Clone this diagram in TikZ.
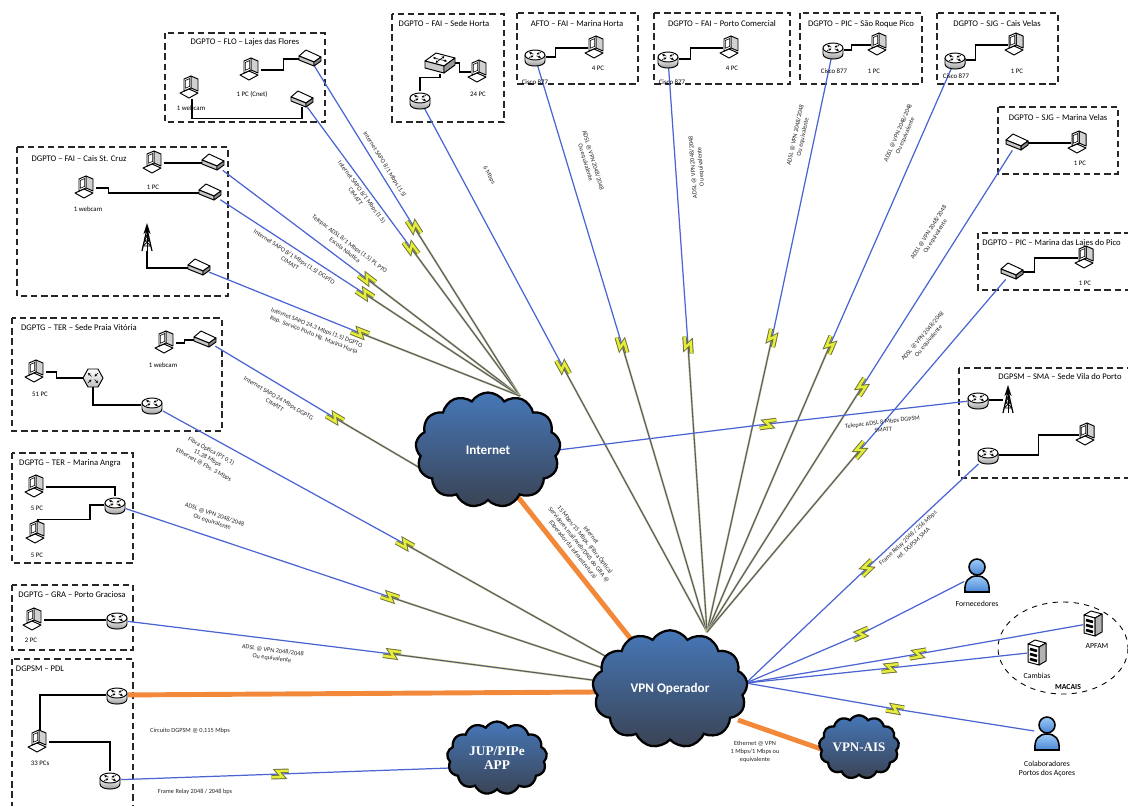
\documentclass[tikz,border=0pt]{standalone}
\usepackage{fontspec}
\setmainfont{Carlito}
\newfontfamily\cloudserif{Liberation Serif}
\usetikzlibrary{shapes.symbols,decorations.markings,arrows.meta}

% colours
\definecolor{linkblue}{HTML}{4A64D2}
\definecolor{linkgray}{HTML}{555A6E}
\definecolor{linkyellow}{HTML}{C9CC8E}
\definecolor{boltfill}{HTML}{E4EE3A}
\definecolor{boltedge}{HTML}{707238}
\definecolor{wanorange}{HTML}{F2883A}
\definecolor{cloudtop}{HTML}{4677B8}
\definecolor{cloudmid}{HTML}{5C9BE0}
\definecolor{cloudbot}{HTML}{3A4354}
\definecolor{personlight}{HTML}{9CCBF4}
\definecolor{persondark}{HTML}{4A86D6}

\newcommand\titlefont{\fontsize{4.9}{5.8}\selectfont}
\newcommand\linkfont{\fontsize{3.6}{4.4}\selectfont}
\newcommand\devfont{\fontsize{3.9}{4.6}\selectfont}

% a WAN link: device -> lightning bolt -> hub
\newcommand\wanlink[4][wirefar]{%
  \draw[wire] (#2) -- (#3);
  \draw[#1] (#3) -- (#4);
  \path[boltmark] (#3) -- (#4);}

\tikzset{
  site/.style={draw=black!85, line width=1pt, dash pattern=on 3.6pt off 2.2pt},
  sitetitle/.style={font=\titlefont, inner sep=0pt},
  devlabel/.style={font=\devfont, inner sep=0pt},
  linklabel/.style={font=\linkfont, align=center, inner sep=0.5pt, text=black!85},
  wiring/.style={draw=black, line width=0.6pt},
  wire/.style={draw=linkblue, line width=0.7pt},
  wirefar/.style={draw=linkyellow, double=linkgray, double distance=0.6pt, line width=0.3pt},
  wan/.style={draw=wanorange, line width=2.8pt},
  boltmark/.style={postaction={decorate, decoration={markings, mark=at position 0 with {
      \draw[boltedge, line width=2.5pt] (-5pt,-1.7pt) -- (1.4pt,-1.7pt) -- (-1.4pt,1.7pt) -- (5pt,1.7pt);
      \draw[boltfill, line width=1.4pt] (-5pt,-1.7pt) -- (1.4pt,-1.7pt) -- (-1.4pt,1.7pt) -- (5pt,1.7pt);}}}},
  netcloud/.style={cloud, cloud puffs=13, cloud puff arc=115, aspect=1.35, draw=black, line width=1.3pt,
      top color=cloudtop, middle color=cloudmid, bottom color=cloudbot, text=white,
      font=\bfseries\fontsize{7.5}{8.5}\selectfont, align=center, inner sep=0pt},
  pcspot/.style={inner sep=0pt, minimum width=0.36cm, minimum height=0.42cm},
  rtspot/.style={inner sep=0pt, minimum width=0.42cm, minimum height=0.34cm},
  mdspot/.style={inner sep=0pt, minimum width=0.40cm, minimum height=0.28cm},
  swspot/.style={inner sep=0pt, minimum width=0.60cm, minimum height=0.42cm},
  hxspot/.style={inner sep=0pt, minimum width=0.40cm, minimum height=0.36cm},
  anspot/.style={inner sep=0pt, minimum width=0.20cm, minimum height=0.50cm},
  psspot/.style={inner sep=0pt, minimum width=0.50cm, minimum height=0.66cm},
  svspot/.style={inner sep=0pt, minimum width=0.38cm, minimum height=0.50cm},
  icon/.style={line width=0.55pt, line join=round},
  tinyarrow/.style={line width=0.35pt, -{Stealth[length=1.5pt, width=1.5pt]}},
  pcicon/.pic={
    \draw[icon, fill=white] (-12,5) -- (-3,1) -- (6,5) -- (-3,10) -- cycle;
    \draw[icon, fill=black!18] (-1,-12) -- (6,-9) -- (6,3) -- (-1,0) -- cycle;
    \draw[icon, fill=white] (-8,-9) -- (-1,-12) -- (-1,0) -- (-8,3) -- cycle;
    \draw[line width=0.35pt] (-6.6,-7.6) -- (-2.4,-9.4) -- (-2.4,-1.6) -- (-6.6,0.2) -- cycle;
  },
  router/.pic={
    \draw[icon, top color=white, bottom color=black!45] (-10,-2) -- (-10,4) .. controls (-10,10.7) and (10,10.7) .. (10,4) -- (10,-2) -- cycle;
    \draw[icon, fill=white] (0,-2) ellipse [x radius=10, y radius=5];
    \draw[tinyarrow] (-1.5,-2.8) -- (-6,-4.6);
    \draw[tinyarrow] (1.5,-1.2) -- (6,0.6);
    \draw[tinyarrow] (-6,0.6) -- (-1.5,-1.2);
    \draw[tinyarrow] (6,-4.6) -- (1.5,-2.8);
  },
  modem/.pic={
    \draw[icon, fill=white] (-11,-3) -- (-4,-9) -- (11,-2) -- (4,3) -- cycle;
    \draw[icon, fill=black!22] (-11,-3) -- (4,3) -- (4,7) -- (-11,1) -- cycle;
    \draw[icon, fill=black!45] (4,3) -- (11,-2) -- (11,2) -- (4,7) -- cycle;
  },
  switchbox/.pic={
    \draw[icon, fill=white] (-15,-2) -- (-4,-10) -- (15,-5) -- (4,3) -- cycle;
    \draw[icon, fill=black!20] (-15,-2) -- (4,3) -- (4,10) -- (-15,5) -- cycle;
    \draw[icon, fill=black!40] (4,3) -- (15,-5) -- (15,2) -- (4,10) -- cycle;
    \draw[line width=0.35pt, {Stealth[length=1.5pt, width=1.5pt]}-{Stealth[length=1.5pt, width=1.5pt]}] (-7,-5.3) -- (7,-1.8);
    \draw[line width=0.35pt, {Stealth[length=1.5pt, width=1.5pt]}-{Stealth[length=1.5pt, width=1.5pt]}] (-4.4,-0.3) -- (4.4,-6.7);
  },
  hubhex/.pic={
    \draw[icon, top color=white, bottom color=black!25] (-10,0) -- (-5,-9) -- (5,-9) -- (10,0) -- (5,9) -- (-5,9) -- cycle;
    \draw[tinyarrow] (-1.5,-1.5) -- (-5,-5);
    \draw[tinyarrow] (1.5,1.5) -- (5,5);
    \draw[tinyarrow] (-5,5) -- (-1.5,1.5);
    \draw[tinyarrow] (5,-5) -- (1.5,-1.5);
  },
  antenna/.pic={
    \draw[line width=0.7pt, line join=miter] (-5,13) -- (0,-9) -- (5,13);
    \draw[line width=0.5pt] (0,-9) -- (0,13);
    \draw[line width=0.45pt] (-4,8) -- (4,8) (-2.6,2) -- (2.6,2) (-4,8) -- (2.6,2) (4,8) -- (-2.6,2)
      (-2.6,2) -- (1.3,-3.5) (2.6,2) -- (-1.3,-3.5);
    \fill (0,-15) -- (-3.5,-4) -- (0,-7) -- (3.5,-4) -- cycle;
  },
  person/.pic={
    \draw[line width=0.9pt, top color=personlight, bottom color=persondark] (-12,17) .. controls (-13,6) and (-8,1) .. (0,1) .. controls (8,1) and (13,6) .. (12,17) -- cycle;
    \draw[line width=0.9pt, top color=personlight, bottom color=persondark] (0,-8) circle [radius=8];
  },
  server/.pic={
    \draw[icon, fill=white] (-9,-8) -- (-2,-12) -- (9,-9) -- (2,-5) -- cycle;
    \draw[icon, fill=white] (-9,-8) -- (2,-5) -- (2,13) -- (-9,10) -- cycle;
    \draw[icon, fill=black!30] (2,-5) -- (9,-9) -- (9,9) -- (2,13) -- cycle;
    \draw[line width=1.5pt] (-7,-3) -- (0,-1) (-7,2) -- (0,4) (-7,7) -- (0,9);
  },
}

\begin{document}
\begin{tikzpicture}[x=0.02cm, y=-0.02cm]
\useasboundingbox (0,0) rectangle (1128,805);

% ---------------- sites ----------------
\draw[site] (165,33) rectangle (325,122);   % Lajes das Flores
\draw[site] (17,147) rectangle (228,296);   % Cais St. Cruz
\draw[site] (12,318) rectangle (222,431);   % Praia Vitoria
\draw[site] (12,453) rectangle (133,563);   % Marina Angra
\draw[site] (12,585) rectangle (133,650);   % Porto Graciosa
\draw[site] (12,659) rectangle (133,812);   % PDL
\draw[site] (392,14) rectangle (504,122);   % Sede Horta
\draw[site] (517,13) rectangle (638,84);    % Marina Horta
\draw[site] (654,13) rectangle (790,84);    % Porto Comercial
\draw[site] (800,13) rectangle (922,84);    % Sao Roque Pico
\draw[site] (937,13) rectangle (1058,84);   % Cais Velas
\draw[site] (998,107) rectangle (1118,174); % Marina Velas
\draw[site] (978,233) rectangle (1140,290); % Marina Lajes do Pico
\draw[site] (959,368) rectangle (1140,478); % Vila do Porto
\draw[dashed, line width=0.5pt] (1063,648) ellipse [x radius=65, y radius=46]; % MACAIS

% ---------------- device positions ----------------
\node[pcspot] (flo1) at (192,88) {};
\node[pcspot] (flo2) at (252,70) {};
\node[mdspot] (flom1) at (310,59) {};
\node[mdspot] (flom2) at (302,100) {};

\node[pcspot] (csc1) at (155,163) {};
\node[pcspot] (csc2) at (87,188) {};
\node[mdspot] (cscm1) at (213,163) {};
\node[mdspot] (cscm2) at (210,193) {};
\node[anspot] (cscant) at (147,238) {};
\node[mdspot] (cscm3) at (199,268) {};

\node[pcspot] (tpv1) at (37,372) {};
\node[hxspot] (tpvhub) at (93,378) {};
\node[rtspot] (tpvr) at (152,405) {};
\node[pcspot] (tpv2) at (167,343) {};
\node[mdspot] (tpvm) at (205,340) {};

\node[pcspot] (tma1) at (37,487) {};
\node[pcspot] (tma2) at (38,533) {};
\node[rtspot] (tmar) at (115,505) {};

\node[pcspot] (gpg1) at (35,620) {};
\node[rtspot] (gpgr) at (117,620) {};

\node[rtspot] (pdlr1) at (117,695) {};
\node[pcspot] (pdlpc) at (40,742) {};
\node[rtspot] (pdlr2) at (110,780) {};

\node[swspot] (fshsw) at (440,63) {};
\node[rtspot] (fshr) at (420,100) {};
\node[pcspot] (fshpc) at (480,72) {};

\node[rtspot] (fmhr) at (535,57) {};
\node[pcspot] (fmhpc) at (597,48) {};
\node[rtspot] (fpcr) at (668,59) {};
\node[pcspot] (fpcpc) at (732,48) {};
\node[rtspot] (psrr) at (833,50) {};
\node[pcspot] (psrpc) at (880,45) {};
\node[rtspot] (scvr) at (955,60) {};
\node[pcspot] (scvpc) at (1017,45) {};
\node[mdspot] (smvm) at (1017,143) {};
\node[pcspot] (smvpc) at (1080,143) {};
\node[mdspot] (pmlm) at (1012,272) {};
\node[pcspot] (pmlpc) at (1087,258) {};

\node[rtspot] (svpr1) at (978,400) {};
\node[anspot] (svpant) at (1008,400) {};
\node[rtspot] (svpr2) at (988,455) {};
\node[pcspot] (svppc) at (1088,435) {};

\node[psspot] (forn) at (977,575) {};
\node[svspot] (apfam) at (1093,623) {};
\node[svspot] (camb) at (1037,652) {};
\node[psspot] (colab) at (1047,733) {};

% ---------------- cloud attachment points ----------------
\coordinate (inetTop) at (520,396);
\coordinate (inetL) at (420,468);
\coordinate (inetR) at (558,450);
\coordinate (inetB) at (518,497);
\coordinate (vpnTop) at (707,632);
\coordinate (vpnR) at (746,683);
\coordinate (vpnL1) at (614,661);
\coordinate (vpnL2) at (606,669);
\coordinate (vpnL3) at (600,681);
\coordinate (vpnL4) at (595,692);
\coordinate (vpnUL) at (638,648);
\coordinate (vpnBR) at (738,720);
\coordinate (aisL) at (824,750);
\coordinate (jupL) at (450,768);

% lightning bolt positions
\coordinate (b1) at (414,227);
\coordinate (b2) at (411,248);
\coordinate (b3) at (367,279);
\coordinate (b4) at (365,294);
\coordinate (b5) at (360,333);
\coordinate (b6) at (335,418);
\coordinate (b7) at (405,544);
\coordinate (b8) at (390,597);
\coordinate (b9) at (392,654);
\coordinate (b11) at (280,774);
\coordinate (b12) at (563,367);
\coordinate (b13) at (622,345);
\coordinate (b14) at (688,345);
\coordinate (b15) at (772,338);
\coordinate (b16) at (830,345);
\coordinate (b17) at (862,387);
\coordinate (b18) at (860,450);
\coordinate (b19) at (768,424);
\coordinate (b20) at (867,568);
\coordinate (b21) at (861,634);
\coordinate (b22) at (918,654);
\coordinate (b23) at (890,668);
\coordinate (b24) at (895,709);

% ---------------- WAN links ----------------
\wanlink{flom1}{b1}{inetTop}
\wanlink{flom2}{b2}{inetTop}
\wanlink{cscm1}{b3}{inetTop}
\wanlink{cscm2}{b4}{inetTop}
\wanlink{cscm3}{b5}{inetTop}
\wanlink{tpvm}{b6}{inetL}
\wanlink{tpvr}{b7}{vpnL1}
\wanlink{tmar}{b8}{vpnL2}
\wanlink{gpgr}{b9}{vpnL3}
\wanlink[wire]{pdlr2}{b11}{jupL}
\wanlink{fshr}{b12}{vpnTop}
\wanlink{fmhr}{b13}{vpnTop}
\wanlink{fpcr}{b14}{vpnTop}
\wanlink{psrr}{b15}{vpnTop}
\wanlink{scvr}{b16}{vpnTop}
\wanlink{smvm}{b17}{vpnTop}
\wanlink{pmlm}{b18}{vpnTop}
\wanlink[wire]{svpr1}{b19}{inetR}
\wanlink[wire]{svpr2}{b20}{vpnR}
\wanlink[wire]{forn}{b21}{vpnR}
\wanlink[wire]{apfam}{b22}{vpnR}
\wanlink[wire]{camb}{b23}{vpnR}
\wanlink[wire]{colab}{b24}{vpnR}

% high capacity links
\draw[wan] (pdlr1) -- (vpnL4);
\draw[wan] (inetB) -- (vpnUL);
\draw[wan] (vpnBR) -- (aisL);

% ---------------- link labels ----------------
\path (flom1) -- (inetTop) node (t1) [linklabel, sloped, pos=0.31, above=2pt] {Internet SAPO 8/1 Mbps (1.5)};
\path (flom2) -- (inetTop) node (t2) [linklabel, sloped, pos=0.28, below=1.5pt] {Internet SAPO 8/1 Mbps (1.5)\\CIMATT};
\path (cscm1) -- (inetTop) node (t3) [linklabel, sloped, pos=0.39, above=4pt] {Telepac ADSL 8/1 Mbps (1.5) PL PTO\\Escola Náutica};
\path (cscm2) -- (inetTop) node (t4) [linklabel, sloped, pos=0.26, below=2pt] {Internet SAPO 8/1 Mbps (1.5) DGPTO\\CIMATT};
\path (cscm3) -- (inetTop) node (t5) [linklabel, sloped, pos=0.36, below=4.5pt] {Internet SAPO 24,3 Mbps (1.5) DGPTO\\Rep. Serviço Porto Hg. Marina Horta};
\path (tpvm) -- (inetL) node (t6) [linklabel, sloped, pos=0.34, below=5pt] {Internet SAPO 24 Mbps DGPTG\\CIMATT};
\path (tpvr) -- (vpnL1) node (t7) [linklabel, sloped, pos=0.12, below=4pt] {Fibra Óptica (PT 0,1)\\11,28 Mbps\\Ethernet @ Fbs. 3 Mbps};
\path (tmar) -- (vpnL2) node (t8) [linklabel, sloped, pos=0.17, above=6pt] {ADSL @ VPN 2048/2048\\Ou equivalente};
\path (gpgr) -- (vpnL3) node (t9) [linklabel, sloped, pos=0.31, below=4pt] {ADSL @ VPN 2048/2048\\Ou equivalente};
\node (t10) [linklabel] at (190,731) {Circuito DGPSM @ 0,115 Mbps};
\node (t11) [linklabel] at (195,792) {Frame Relay 2048 / 2048 bps};
\path (fshr) -- (vpnTop) node (t12) [linklabel, sloped, pos=0.15, above=12pt] {6 Mbps};
\path (fmhr) -- (vpnTop) node (t13) [linklabel, sloped, pos=0.18, above=8pt] {ADSL @ VPN 2048/2048\\Ou equivalente};
\node (t14) [linklabel, rotate=94] at (697,167) {ADSL @ VPN 2048/2048\\Ou equivalente};
\path (psrr) -- (vpnTop) node (t15) [linklabel, sloped, pos=0.14, above=4pt] {ADSL @ VPN 2048/2048\\Ou equivalente};
\path (scvr) -- (vpnTop) node (t16) [linklabel, sloped, pos=0.13, above=6.5pt] {ADSL @ VPN 2048/2048\\Ou equivalente};
\path (smvm) -- (vpnTop) node (t17) [linklabel, sloped, pos=0.20, above=8.5pt] {ADSL @ VPN 2048/2048\\Ou equivalente};
\path (pmlm) -- (vpnTop) node (t18) [linklabel, sloped, pos=0.21, above=8.5pt] {ADSL @ VPN 2048/2048\\Ou equivalente};
\path (inetR) -- (svpr1) node (t19) [linklabel, sloped, pos=0.79, below=4pt] {Telepac ADSL 8 Mbps DGPSM\\SMATT};
\path (svpr2) -- (vpnR) node (t20) [linklabel, sloped, pos=0.32, below=1pt] {Frame Relay 2048 / 256 Mbps\\ref. DGPSM SMA};
\path (inetB) -- (vpnUL) node (t21) [linklabel, sloped, pos=0.39, above=3.5pt] {Internet\\15 Mbps/15 Mbps, (Fibra Óptica)\\Servidores mail/web/DNS do GRA @\\(Operador da infraestrutura)};
\node (t22) [linklabel] at (755,752) {Ethernet @ VPN\\1 Mbps/1 Mbps ou\\equivalente};

% ---------------- LAN wiring ----------------
\draw[wiring] (flo2.east) -- ++(22,0) |- (flom1.west);
\draw[wiring] (flo1.south) -- ++(0,20) -| (flom2.south);
\draw[wiring] (csc1.east) -- ++(22,0) |- (cscm1.west);
\draw[wiring] (csc2.east) -- ++(12,0) |- (cscm2.west);
\draw[wiring] (cscant.south) |- (cscm3.west);
\draw[wiring] (tpv1.east) -- ++(10,0) |- (tpvhub.west);
\draw[wiring] (tpvhub.south) |- (tpvr.west);
\draw[wiring] (tpv2.east) -- ++(8,0) |- (tpvm.west);
\draw[wiring] (tma1.east) -| (tmar.north);
\draw[wiring] (tma2.north) -- ++(0,-3) -- ++(52,0) |- (tmar.west);
\draw[wiring] (gpg1.east) -- (gpgr.west);
\draw[wiring] (pdlr1.west) -| (pdlpc.north);
\draw[wiring] (pdlpc.east) -| (pdlr2.north);
\draw[wiring] (fshsw.east) -- ++(4,0) |- (fshpc.west);
\draw[wiring] (fshsw.south) -- ++(0,4) -| (fshr.north);
\draw[wiring] (fmhr.east) -- ++(10,0) |- (fmhpc.west);
\draw[wiring] (fpcr.east) -- ++(12,0) |- (fpcpc.west);
\draw[wiring] (psrr.east) -- ++(8,0) |- (psrpc.west);
\draw[wiring] (scvr.east) -- ++(10,0) |- (scvpc.west);
\draw[wiring] (smvm.east) -- (smvpc.west);
\draw[wiring] (pmlm.east) -- ++(12,0) |- (pmlpc.west);
\draw[wiring] (svpr1.east) -- (svpant.west);
\draw[wiring] (svpr2.east) -- ++(40,0) |- (svppc.west);

% ---------------- device icons ----------------
\foreach \n in {flo1,flo2,csc1,csc2,tpv1,tpv2,tma1,tma2,gpg1,pdlpc,fshpc,fmhpc,fpcpc,psrpc,scvpc,smvpc,pmlpc,svppc}
  \pic at (\n) {pcicon};
\foreach \n in {tpvr,tmar,gpgr,pdlr1,pdlr2,fshr,fmhr,fpcr,psrr,scvr,svpr1,svpr2}
  \pic at (\n) {router};
\foreach \n in {flom1,flom2,cscm1,cscm2,cscm3,tpvm,smvm,pmlm}
  \pic at (\n) {modem};
\foreach \n in {cscant,svpant}
  \pic at (\n) {antenna};
\pic at (fshsw) {switchbox};
\pic at (tpvhub) {hubhex};
\pic at (forn) {person};
\pic at (colab) {person};
\pic at (apfam) {server};
\pic at (camb) {server};

% ---------------- clouds ----------------
\node[netcloud, minimum width=2.9cm, minimum height=2.3cm] (inet) at (488,450) {Internet};
\node[netcloud, minimum width=3.1cm, minimum height=2.35cm] (vpn) at (670,689) {VPN Operador};
\node[netcloud, minimum width=2.0cm, minimum height=1.46cm, font=\cloudserif\bfseries\fontsize{7.6}{8.4}\selectfont] (jup) at (497,758) {JUP/PIPe\\APP};
\node[netcloud, minimum width=1.6cm, minimum height=1.2cm, font=\cloudserif\bfseries\fontsize{7.4}{8.4}\selectfont] (ais) at (859,747) {VPN-AIS};

% ---------------- site titles ----------------
\node[sitetitle] (h1) at (245,42) {DGPTO – FLO – Lajes das Flores};
\node[sitetitle] (h2) at (79,159) {DGPTO – FAI – Cais St. Cruz};
\node[sitetitle] (h3) at (79,328) {DGPTG – TER – Sede Praia Vitória};
\node[sitetitle] (h4) at (70,463) {DGPTG – TER – Marina Angra};
\node[sitetitle] (h5) at (72,595) {DGPTG – GRA – Porto Graciosa};
\node[sitetitle] (h6) at (40,669) {DGPSM – PDL};
\node[sitetitle] (h7) at (444,24) {DGPTO – FAI – Sede Horta};
\node[sitetitle] (h8) at (577,24) {AFTO – FAI – Marina Horta};
\node[sitetitle] (h9) at (722,24) {DGPTO – FAI – Porto Comercial};
\node[sitetitle] (h10) at (861,24) {DGPTO – PIC – São Roque Pico};
\node[sitetitle] (h11) at (997,24) {DGPTO – SJG – Cais Velas};
\node[sitetitle] (h12) at (1058,118) {DGPTO – SJG – Marina Velas};
\node[sitetitle, anchor=west] (h13) at (982,243) {DGPTO – PIC – Marina das Lajes do Pico};
\node[sitetitle, anchor=west] (h14) at (998,377) {DGPSM – SMA – Sede Vila do Porto};

% ---------------- device labels ----------------
\node[devlabel] (d1) at (191,108) {1 webcam};
\node[devlabel] (d2) at (252,94) {1 PC (Cnet)};
\node[devlabel] (d3) at (153,187) {1 PC};
\node[devlabel] (d4) at (88,209) {1 webcam};
\node[devlabel] (d5) at (40,394) {51 PC};
\node[devlabel] (d6) at (163,365) {1 webcam};
\node[devlabel] (d7) at (37,508) {5 PC};
\node[devlabel] (d8) at (37,555) {5 PC};
\node[devlabel] (d9) at (31,640) {2 PC};
\node[devlabel] (d10) at (40,763) {33 PCs};
\node[devlabel] (d11) at (478,94) {24 PC};
\node[devlabel] (d12) at (535,82) {Cisco 877};
\node[devlabel] (d13) at (598,68) {4 PC};
\node[devlabel] (d14) at (672,82) {Cisco 877};
\node[devlabel] (d15) at (732,68) {4 PC};
\node[devlabel] (d16) at (834,71) {Cisco 877};
\node[devlabel] (d17) at (874,71) {1 PC};
\node[devlabel] (d18) at (956,76) {Cisco 877};
\node[devlabel] (d19) at (1017,71) {1 PC};
\node[devlabel] (d20) at (1080,163) {1 PC};
\node[devlabel] (d21) at (1085,283) {1 PC};
\node[devlabel, font=\fontsize{4.4}{5.2}\selectfont] (d22) at (977,604) {Fornecedores};
\node[devlabel, font=\fontsize{4.4}{5.2}\selectfont] (d23) at (1097,646) {APFAM};
\node[devlabel, font=\fontsize{4.4}{5.2}\selectfont] (d24) at (1037,676) {Cambias};
\node[devlabel, font=\bfseries\fontsize{4.4}{5.2}\selectfont] (d25) at (1068,687) {MACAIS};
\node[devlabel, font=\fontsize{4.4}{5.4}\selectfont, align=center] (d26) at (1047,769) {Colaboradores\\Portos dos Açores};
\end{tikzpicture}
\end{document}
